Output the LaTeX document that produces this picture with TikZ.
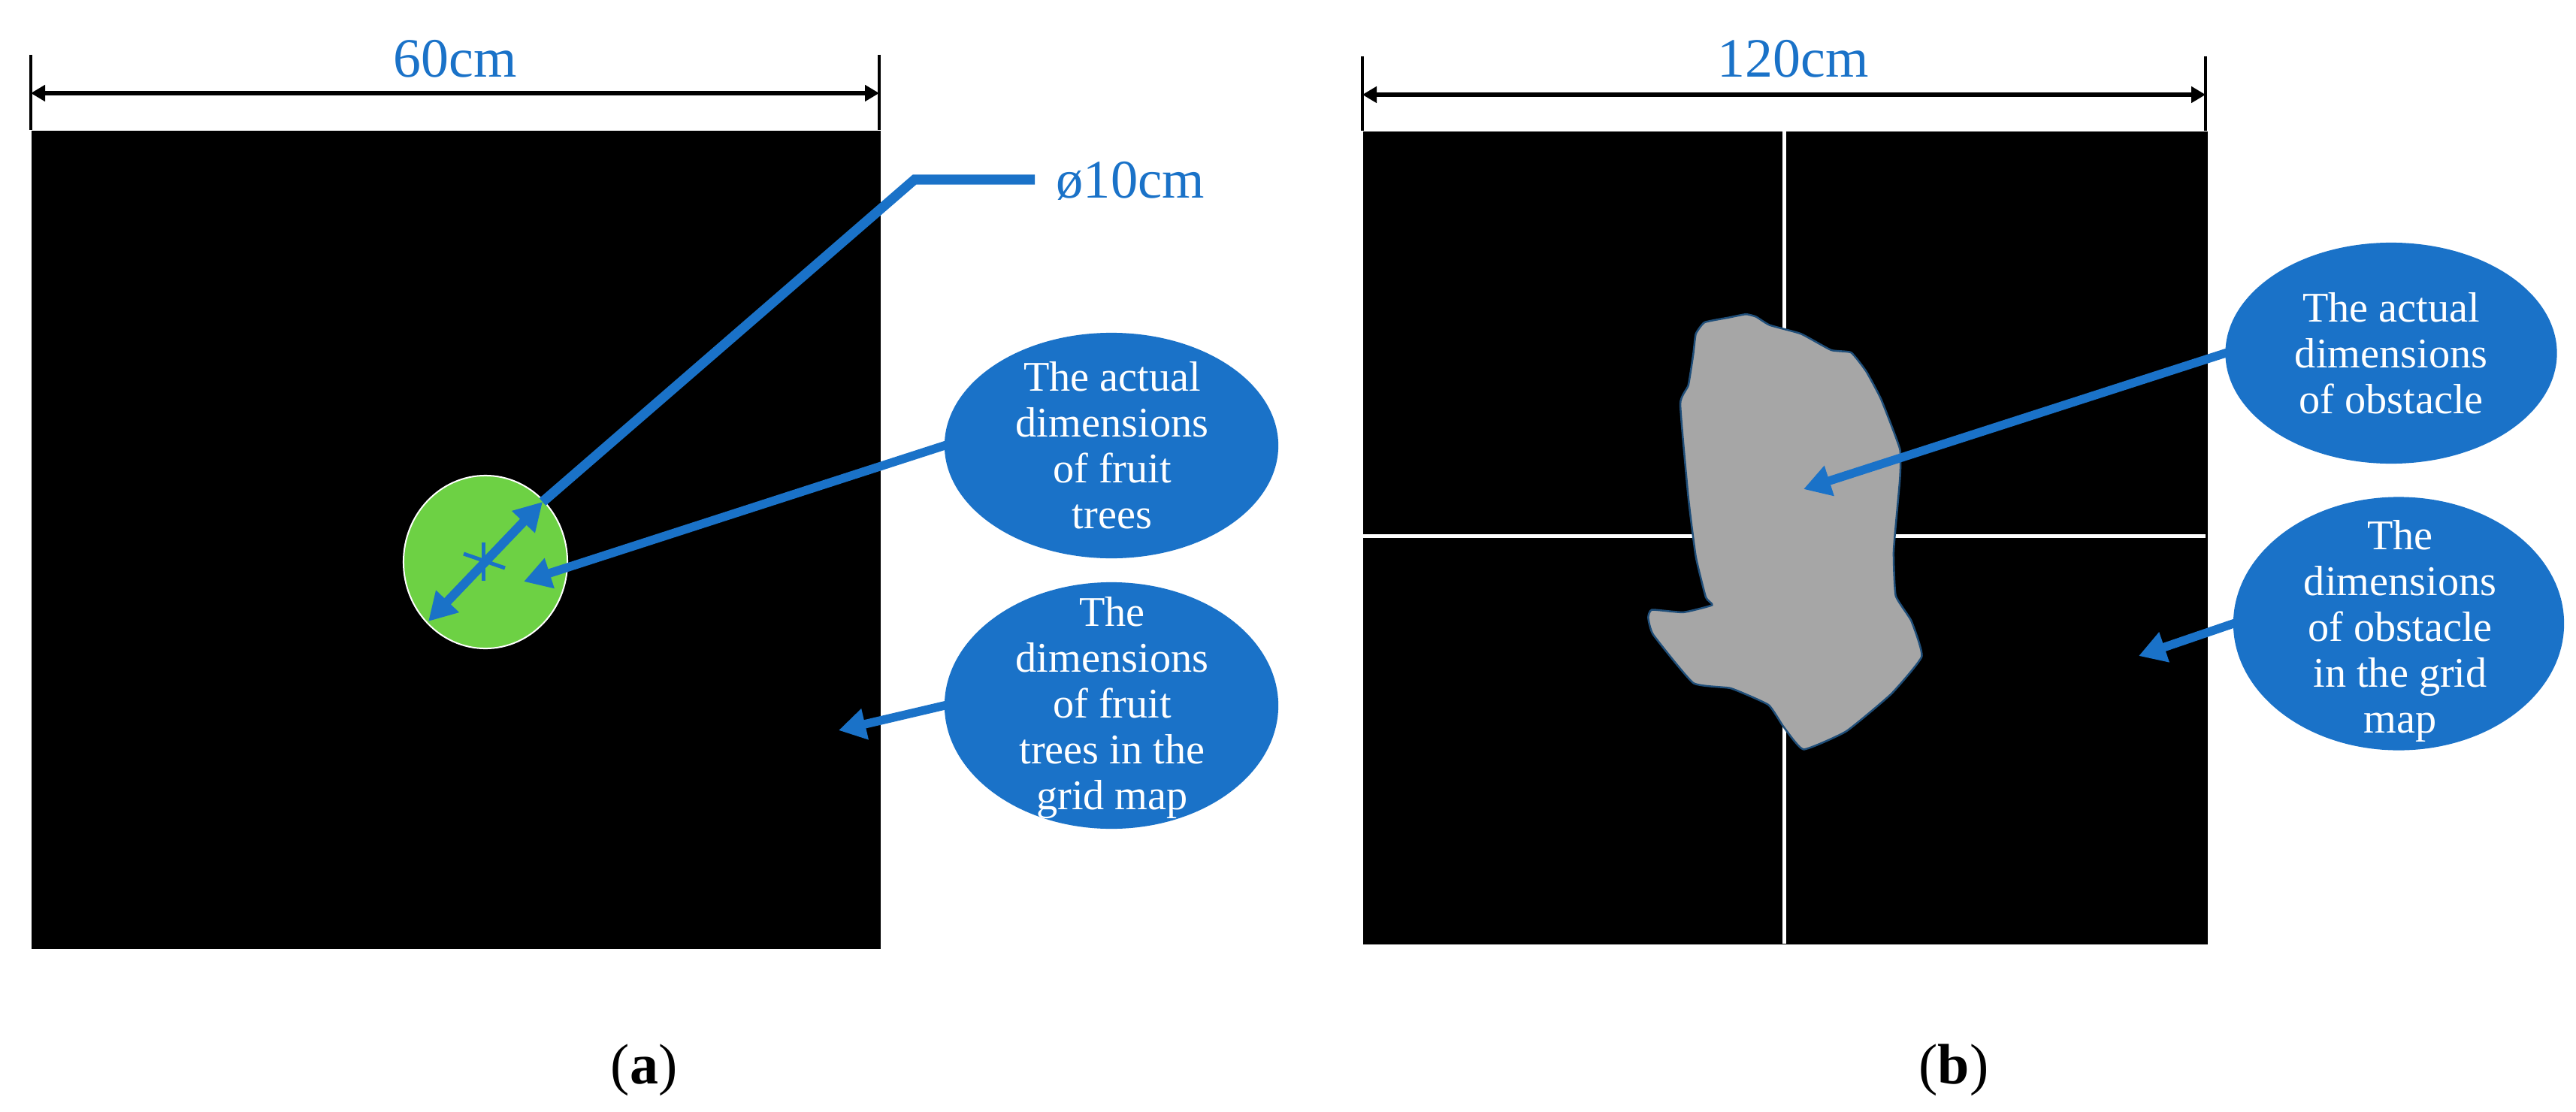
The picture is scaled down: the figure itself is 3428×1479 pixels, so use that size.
\documentclass[tikz,border=0pt]{standalone}
\usepackage{fontspec}
\setmainfont{Liberation Serif}
\usetikzlibrary{shapes.geometric,arrows.meta}
\definecolor{bluea}{HTML}{1A72C8}
\definecolor{greena}{HTML}{6DD144}
\definecolor{graya}{HTML}{A6A6A6}
\definecolor{edgea}{HTML}{1F4E79}
\tikzset{
  blob/.style={ellipse,fill=bluea,inner sep=0pt,outer sep=0pt},
  blobtext/.style={text=white,align=center,inner sep=0pt,font=\fontsize{16}{17.35}\selectfont},
  leader/.style={draw=bluea,line width=0.115cm,-{Triangle[length=0.36cm,width=0.40cm]},shorten <=-0.03cm},
  dim/.style={draw=black,line width=0.055cm,{Triangle[length=0.19cm,width=0.21cm]}-{Triangle[length=0.19cm,width=0.21cm]}},
  tick/.style={draw=black,line width=0.04cm},
  dimtext/.style={text=bluea,inner sep=0pt,anchor=base,font=\fontsize{21}{24}\selectfont},
  caption/.style={text=black,inner sep=0pt,anchor=base,font=\fontsize{21.6}{25}\selectfont},
  panel/.style={fill=black,draw=none},
  grid/.style={draw=white,line width=0.05cm}
}
\begin{document}
\begin{tikzpicture}[x=0.01cm,y=-0.01cm]
\useasboundingbox (0,0) rectangle (3428,1479);
% panel a
\node[panel,minimum width=11.30cm,minimum height=10.89cm,inner sep=0pt,anchor=north west] (pa) at (41,173) {};
\node[ellipse,fill=greena,draw=white,line width=0.02cm,minimum width=2.18cm,minimum height=2.30cm,inner sep=0pt] (tree) at (646,748) {};
\coordinate (ta1) at (41,73);
\coordinate (ta2) at (1170,73);
\coordinate (da1) at (41,124);
\coordinate (da2) at (1170,124);
\draw[tick] (ta1) -- (ta1 |- pa.north);
\draw[tick] (ta2) -- (ta2 |- pa.north);
\draw[dim] (da1) -- (da2);
\node[dimtext] (l60) at (606,103) {60cm};
% star marker
\coordinate (sa1) at (643,722);
\coordinate (sa2) at (643,773);
\coordinate (sb1) at (617,737);
\coordinate (sb2) at (672,756);
\draw[draw=bluea,line width=0.05cm] (sa1) -- (sa2);
\draw[draw=bluea,line width=0.05cm] (sb1) -- (sb2);
% diameter arrow and leader
\coordinate (d1) at (722,668);
\coordinate (d2) at (570,827);
\coordinate (el) at (1217,239);
\coordinate (le) at (1377,239);
\draw[draw=bluea,line width=0.12cm,{Triangle[length=0.37cm,width=0.40cm]}-{Triangle[length=0.37cm,width=0.40cm]}] (d1) -- (d2);
\draw[draw=bluea,line width=0.13cm,miter limit=10] (d1) -- (el) -- (le);
\node[text=bluea,inner sep=0pt,anchor=base west,font=\fontsize{20.6}{24}\selectfont] (l10) at (1405,264) {ø10cm};
% panel a callouts
\node[blob,minimum width=4.44cm,minimum height=3.00cm] (e1) at (1479,593) {};
\node[blob,minimum width=4.44cm,minimum height=3.28cm] (e2) at (1479,939) {};
\node[blobtext] (t1) at (1480,593) {The actual\\dimensions\\of fruit\\trees};
\node[blobtext] (t2) at (1480,942) {The\\dimensions\\of fruit\\trees in the\\grid map};
\coordinate (a1) at (697,774);
\coordinate (a2) at (1116,972);
\draw[leader] (e1.west) -- (a1);
\draw[leader] (e2.west) -- (a2);
% panel b
\node[panel,minimum width=11.24cm,minimum height=10.82cm,inner sep=0pt,anchor=north west] (pb) at (1813,174) {};
\coordinate (tb1) at (1813,75);
\coordinate (tb2) at (2935,75);
\coordinate (db1) at (1813,126);
\coordinate (db2) at (2935,126);
\draw[tick] (tb1) -- (tb1 |- pb.north);
\draw[tick] (tb2) -- (tb2 |- pb.north);
\draw[dim] (db1) -- (db2);
\node[dimtext] (l120) at (2386,103) {120cm};
\draw[grid] (pb.north west |- 0,713) -- (2935,713);
\draw[grid] (2374,174) -- (2374,1256);
\draw[fill=graya,draw=edgea,line width=0.025cm] plot[smooth cycle,tension=0.25] coordinates {
(2256.7,444.3)(2268.3,429)(2300,422.7)(2323.3,418.2)(2336.7,421.5)(2355,432.7)(2396.7,444.3)(2436.7,465.9)(2463.3,469.2)(2483.3,494.1)(2503.3,531.5)(2528.3,597.8)(2528.3,637.3)(2520,732.7)(2522.7,792.9)(2543.3,826)(2557.3,873.8)(2516.7,923.6)(2456.7,973.4)(2400,997.4)(2373.3,967.1)(2353.3,938.1)(2303.3,916.1)(2253.3,909)(2200,844.7)(2193.3,821.9)(2198.3,811.5)(2240,814.9)(2278.3,805.3)(2270,795)(2256.7,741)(2246.7,662.2)(2236,537.7)(2246.7,512.8)(2253.3,471.3)};
% panel b callouts
\node[blob,minimum width=4.41cm,minimum height=2.94cm] (e3) at (3182,470) {};
\node[blob,minimum width=4.40cm,minimum height=3.37cm] (e4) at (3192,830) {};
\node[blobtext] (t3) at (3182,470) {The actual\\dimensions\\of obstacle};
\node[blobtext] (t4) at (3194,840) {The\\dimensions\\of obstacle\\in the grid\\map};
\coordinate (a3) at (2400,651);
\coordinate (a4) at (2846,873);
\draw[leader] (e3.west) -- (a3);
\draw[leader] (e4.west) -- (a4);
% captions
\node[caption] (ca) at (857,1442) {(\textbf{a})};
\node[caption] (cb) at (2600,1442) {(\textbf{b})};
\end{tikzpicture}
\end{document}
